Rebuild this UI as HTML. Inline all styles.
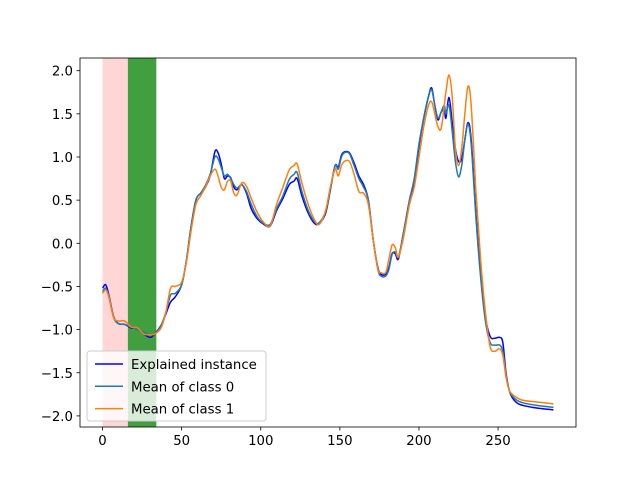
<!DOCTYPE html>
<html><head><meta charset="utf-8"><style>
html,body{margin:0;padding:0;background:#fff;}
svg{display:block;font-family:"DejaVu Sans","Liberation Sans",sans-serif;}
</style></head><body>
<svg id="chart" width="640" height="480" viewBox="0 0 640 480" xmlns="http://www.w3.org/2000/svg">
<rect x="0" y="0" width="640" height="480" fill="#fff"/>
<g id="spans"></g><g id="series"></g><g id="axes"></g><g id="legend"></g>
</svg>
<script>
const xs = [0,2,4,7,10,14,18,22,26,30,33,37,40,43,46,50,53,56,59,62,65,68,71,73,75,77,79,81,83,85,88,91,94,98,102,106,110,114,118,121,123,126,130,134,137,141,144,147,149,151,153,156,159,162,165,168,171,174,176,179,181,183,185,187,190,194,197,200,203,206,208,210,212,214,216,217,219,221,223,225,227,229,231,233,236,239,242,245,248,251,253,255,257,259,262,266,275,285];
const explained = [-0.52,-0.48,-0.6,-0.85,-0.93,-0.94,-0.98,-0.99,-1.05,-1.09,-1.05,-0.95,-0.82,-0.68,-0.62,-0.48,-0.2,0.2,0.5,0.58,0.65,0.78,1.06,1.05,0.92,0.75,0.78,0.76,0.65,0.62,0.68,0.58,0.4,0.28,0.22,0.2,0.38,0.52,0.68,0.72,0.75,0.55,0.35,0.23,0.23,0.35,0.62,0.9,0.88,1.02,1.06,1.05,0.93,0.78,0.68,0.5,0.05,-0.28,-0.36,-0.36,-0.28,-0.12,-0.12,-0.18,0.1,0.5,0.72,1.12,1.45,1.7,1.8,1.6,1.43,1.52,1.55,1.45,1.69,1.4,1.1,0.95,0.98,1.2,1.4,1.2,0.35,-0.35,-0.85,-1.08,-1.1,-1.09,-1.15,-1.5,-1.7,-1.79,-1.85,-1.88,-1.91,-1.93];
const class0 = [-0.56,-0.52,-0.62,-0.86,-0.93,-0.94,-0.97,-1.0,-1.03,-1.06,-1.05,-0.95,-0.8,-0.6,-0.58,-0.48,-0.2,0.2,0.5,0.58,0.67,0.8,1.0,0.98,0.88,0.78,0.8,0.75,0.68,0.64,0.68,0.6,0.45,0.3,0.23,0.22,0.4,0.55,0.74,0.8,0.82,0.6,0.38,0.25,0.24,0.37,0.64,0.9,0.86,1.0,1.05,1.04,0.9,0.75,0.65,0.5,0.05,-0.3,-0.38,-0.38,-0.3,-0.13,-0.1,-0.16,0.1,0.5,0.75,1.15,1.45,1.7,1.78,1.6,1.45,1.52,1.6,1.5,1.6,1.3,0.95,0.77,0.9,1.2,1.38,1.15,0.3,-0.4,-0.9,-1.15,-1.18,-1.18,-1.25,-1.52,-1.7,-1.77,-1.82,-1.85,-1.88,-1.9];
const class1 = [-0.58,-0.54,-0.62,-0.86,-0.9,-0.9,-0.97,-0.98,-1.05,-1.06,-1.05,-0.98,-0.8,-0.52,-0.5,-0.45,-0.22,0.15,0.45,0.55,0.65,0.78,0.86,0.78,0.65,0.62,0.72,0.72,0.58,0.56,0.7,0.66,0.52,0.35,0.24,0.2,0.45,0.65,0.85,0.9,0.92,0.7,0.45,0.27,0.22,0.38,0.65,0.86,0.78,0.9,0.95,0.95,0.8,0.6,0.58,0.45,0.05,-0.3,-0.34,-0.34,-0.18,-0.02,-0.05,-0.16,0.05,0.45,0.65,1.0,1.35,1.6,1.64,1.5,1.35,1.33,1.6,1.75,1.95,1.7,1.1,0.9,1.1,1.5,1.82,1.6,0.6,-0.2,-0.8,-1.2,-1.25,-1.22,-1.3,-1.55,-1.7,-1.75,-1.79,-1.82,-1.84,-1.86];
const spanStarts = [0,16];
const spanEnds = [16,34];
const xTicks = [0,50,100,150,200,250];
const yTicks = [-2.0,-1.5,-1.0,-0.5,0.0,0.5,1.0,1.5,2.0];
const seriesNames = ["Explained instance","Mean of class 0","Mean of class 1"];

const NS="http://www.w3.org/2000/svg";
const L=80,R=576,T=58,B=427;
const xMin=-14.25,xMax=299.25;
function X(v){return L+(v-xMin)/(xMax-xMin)*(R-L);}
function Y(v){return 243.3-v*86.3;}
function mk(tag,attrs,parent){const e=document.createElementNS(NS,tag);for(const k in attrs)e.setAttribute(k,attrs[k]);parent.appendChild(e);return e;}

const spans=document.getElementById('spans');
const spanFill=['rgba(255,0,0,0.16)','rgba(0,128,0,0.75)'];
for(let i=0;i<spanStarts.length;i++){
  const r=mk('rect',{x:X(spanStarts[i]),y:T,width:X(spanEnds[i])-X(spanStarts[i]),height:B-T,fill:spanFill[i]},spans);
  
  
}

function smoothPath(px,py){
  const p=px.map((x,i)=>[X(x),Y(py[i])]);
  let d='M'+p[0][0].toFixed(2)+','+p[0][1].toFixed(2);
  for(let i=0;i<p.length-1;i++){
    const p0=p[Math.max(0,i-1)],p1=p[i],p2=p[i+1],p3=p[Math.min(p.length-1,i+2)];
    const c1=[p1[0]+(p2[0]-p0[0])/6,p1[1]+(p2[1]-p0[1])/6];
    const c2=[p2[0]-(p3[0]-p1[0])/6,p2[1]-(p3[1]-p1[1])/6];
    d+='C'+c1[0].toFixed(2)+','+c1[1].toFixed(2)+' '+c2[0].toFixed(2)+','+c2[1].toFixed(2)+' '+p2[0].toFixed(2)+','+p2[1].toFixed(2);
  }
  return d;
}
const seriesG=document.getElementById('series');
const cols=['#0000ff','#1f77b4','#ff7f0e'];
const data=[explained,class0,class1];
const snames=['series-explained-instance','series-mean-class-0','series-mean-class-1'];
for(let s=0;s<3;s++){
  const p=mk('path',{d:smoothPath(xs,data[s]),fill:'none',stroke:cols[s],'stroke-width':1.5,'stroke-linejoin':'round'},seriesG);
  
  
}

const axes=document.getElementById('axes');
const frame=mk('rect',{x:L,y:T,width:R-L,height:B-T,fill:'none',stroke:'#000','stroke-width':0.8},axes);


xTicks.forEach(v=>{
  const tk=mk('line',{x1:X(v),x2:X(v),y1:B,y2:B+3.5,stroke:'#000','stroke-width':0.8},axes);
  
  
  const t=mk('text',{x:X(v),y:B+18,'text-anchor':'middle','font-size':'13.3px',fill:'#000'},axes);
  t.textContent=String(v);
  
  
});
yTicks.forEach(v=>{
  const tk=mk('line',{x1:L-3.5,x2:L,y1:Y(v),y2:Y(v),stroke:'#000','stroke-width':0.8},axes);
  
  
  const t=mk('text',{x:L-7,y:Y(v)+5,'text-anchor':'end','font-size':'13.3px',fill:'#000'},axes);
  t.textContent=(v<0?'\u2212':'')+Math.abs(v).toFixed(1);
  
  
});

const lg=document.getElementById('legend');
const box=mk('rect',{x:87,y:351,width:179,height:70,rx:3,fill:'rgba(255,255,255,0.8)',stroke:'#ccc','stroke-width':1},lg);


for(let i=0;i<3;i++){
  const yy=364+i*22.3;
  const ln=mk('line',{x1:95,x2:123,y1:yy,y2:yy,stroke:cols[i],'stroke-width':1.5},lg);
  
  
  const t=mk('text',{x:131,y:yy+5,'font-size':'13.3px',fill:'#000'},lg);
  t.textContent=seriesNames[i];
  
  
}
</script>
</body></html>
